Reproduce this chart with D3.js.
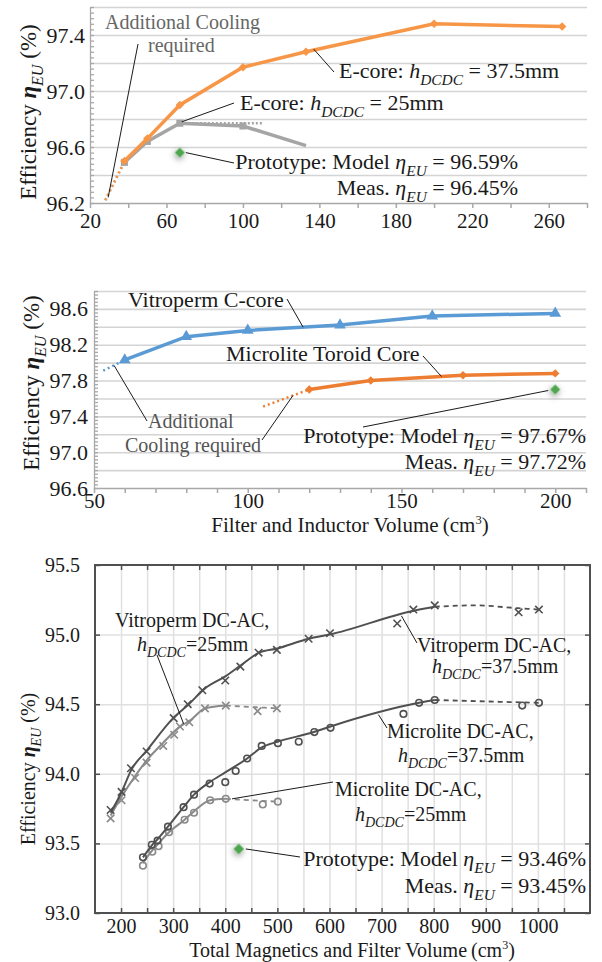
<!DOCTYPE html>
<html>
<head>
<meta charset="utf-8">
<script src="https://cdn.jsdelivr.net/npm/d3@7"></script>
<style>
  body { margin: 0; background: #fff; }
  svg { display: block; }
</style>
</head>
<body>
<svg id="fig" width="602" height="962"></svg>
<script>
// ---- top chart: E-core designs
var topVol25 = [38, 50, 67, 100, 133];
var topEff25 = [96.49, 96.64, 96.77, 96.75, 96.61];
var topVol37 = [38, 50, 67, 100, 133, 200, 267];
var topEff37 = [96.50, 96.66, 96.90, 97.17, 97.28, 97.48, 97.46];
var topCoolVol = [28, 38];
var topCoolEff37 = [96.22, 96.50];
var topCoolEff25 = [96.22, 96.49];
var topFlatVol = [67, 110];
var topFlatEff = [96.77, 96.77];
var topProto = [67, 96.56];
var topXTicks = [20, 60, 100, 140, 180, 220, 260];
var topYTicks = [96.2, 96.6, 97.0, 97.4];

// ---- middle chart: filter and inductor volume
var midVitroVol = [60, 80, 100, 130, 160, 200];
var midVitroEff = [98.03, 98.29, 98.36, 98.42, 98.52, 98.55];
var midVitroCoolVol = [53, 60];
var midVitroCoolEff = [97.91, 98.03];
var midMicroVol = [120, 140, 170, 200];
var midMicroEff = [97.70, 97.80, 97.86, 97.88];
var midMicroCoolVol = [105, 120];
var midMicroCoolEff = [97.51, 97.70];
var midProto = [200, 97.70];
var midXTicks = [50, 100, 150, 200];
var midYTicks = [96.6, 97.0, 97.4, 97.8, 98.2, 98.6];

// ---- bottom chart: total magnetics volume (markers = designs, curves = trend)
var v37Vol = [180, 201, 219, 249, 301, 328, 356, 400, 429, 464, 499, 560, 601, 730, 761, 802, 963, 1002];
var v37Eff = [93.74, 93.87, 94.04, 94.16, 94.40, 94.50, 94.60, 94.67, 94.77, 94.87, 94.89, 94.97, 95.01, 95.08, 95.18, 95.21, 95.16, 95.18];
var v37CurveVol = [180, 200, 220, 250, 300, 330, 360, 400, 430, 465, 500, 560, 600, 760, 802];
var v37CurveEff = [93.72, 93.86, 94.03, 94.17, 94.40, 94.50, 94.61, 94.70, 94.78, 94.87, 94.90, 94.97, 95.00, 95.17, 95.20];
var v37DashVol = [802, 880, 960, 1002];
var v37DashEff = [95.20, 95.21, 95.19, 95.18];

var v25Vol = [180, 201, 227, 249, 281, 302, 313, 331, 361, 401, 462, 499];
var v25Eff = [93.68, 93.81, 93.97, 94.08, 94.20, 94.28, 94.34, 94.37, 94.47, 94.49, 94.45, 94.47];
var v25CurveVol = [180, 200, 230, 250, 280, 310, 335, 361, 401];
var v25CurveEff = [93.70, 93.83, 94.00, 94.10, 94.22, 94.33, 94.39, 94.47, 94.49];
var v25DashVol = [401, 450, 500];
var v25DashEff = [94.49, 94.48, 94.47];

var m37Vol = [242, 259, 270, 290, 320, 340, 370, 400, 420, 442, 470, 501, 541, 571, 602, 742, 772, 802, 970, 1002];
var m37Eff = [93.40, 93.49, 93.52, 93.62, 93.76, 93.85, 93.93, 93.94, 94.02, 94.11, 94.20, 94.22, 94.23, 94.30, 94.33, 94.43, 94.51, 94.53, 94.49, 94.51];
var m37CurveVol = [242, 260, 270, 290, 320, 340, 370, 400, 442, 470, 500, 570, 602, 772, 802];
var m37CurveEff = [93.40, 93.49, 93.53, 93.62, 93.76, 93.85, 93.94, 94.01, 94.11, 94.19, 94.23, 94.30, 94.34, 94.51, 94.53];
var m37DashVol = [802, 900, 1002];
var m37DashEff = [94.53, 94.52, 94.51];

var m25Vol = [242, 260, 272, 292, 322, 340, 371, 401, 472, 501];
var m25Eff = [93.34, 93.44, 93.48, 93.58, 93.67, 93.72, 93.81, 93.82, 93.78, 93.80];
var m25CurveVol = [242, 260, 272, 292, 322, 340, 371, 401];
var m25CurveEff = [93.36, 93.45, 93.50, 93.58, 93.67, 93.73, 93.81, 93.82];
var m25DashVol = [401, 450, 501];
var m25DashEff = [93.82, 93.81, 93.80];

var botProto = [426, 93.46];
var botXTicks = [200, 300, 400, 500, 600, 700, 800, 900, 1000];
var botYTicks = [93.0, 93.5, 94.0, 94.5, 95.0, 95.5];

var INK = "#1a1a1a";
var SERIF = "'Liberation Serif'";
var svg = d3.select("#fig");

var defs = svg.append("defs");
var glow = defs.append("filter").attr("id", "glow")
  .attr("x", "-200%").attr("y", "-200%").attr("width", "500%").attr("height", "500%");
glow.append("feDropShadow").attr("dx", 1).attr("dy", 2).attr("stdDeviation", 3)
  .attr("flood-color", "#000").attr("flood-opacity", 0.5);

function pts(xs, ys) {
  return xs.map(function (v, i) { return [v, ys[i]]; });
}

// text with italic / subscript / superscript runs
function rich(g, x, y, parts, size, anchor, fill) {
  var t = g.append("text").attr("x", x).attr("y", y)
    .style("font-family", SERIF)
    .attr("font-size", size).attr("text-anchor", anchor || "start")
    .attr("fill", fill || INK);
  var shift = 0;
  parts.forEach(function (p) {
    var s = t.append("tspan").text(p.t);
    var want = p.sub ? size * 0.3 : (p.sup ? -size * 0.4 : 0);
    if (want !== shift) { s.attr("dy", want - shift); shift = want; }
    if (p.sub) s.attr("font-size", size * 0.7);
    if (p.sup) s.attr("font-size", size * 0.6);
    if (p.i) s.attr("font-style", "italic");
    if (p.b) s.attr("font-weight", "bold");
  });
  return t;
}

function leader(g, a, b) {
  g.append("line").attr("x1", a[0]).attr("y1", a[1]).attr("x2", b[0]).attr("y2", b[1])
    .attr("stroke", INK).attr("stroke-width", 1);
}

function yTitle(g, cx, cy, size) {
  var t = rich(g, 0, 0, [
    { t: "Efficiency " }, { t: "η", i: true, b: true }, { t: "EU", i: true, sub: true }, { t: " (%)" }
  ], size, "middle");
  t.attr("transform", "translate(" + cx + "," + cy + ") rotate(-90)");
}

function styleAxisText(sel, size) {
  sel.selectAll("text").style("font-family", SERIF).attr("font-size", size).attr("fill", INK);
}

function hEta(sub) { return [{ t: "h", i: true }, { t: sub, i: true, sub: true }]; }
function eta() { return [{ t: "η", i: true }, { t: "EU", i: true, sub: true }]; }

var diamond = d3.symbol(d3.symbolSquare, 36);

// ================= TOP =================
(function () {
  var x = d3.scaleLinear([20, 280], [90, 587]);
  var y = d3.scaleLinear([96.2, 97.6], [203, 7]);
  var w = 497;
  var g = svg.append("g");

  g.append("g").attr("transform", "translate(90,0)")
    .call(d3.axisLeft(y).tickValues(d3.range(96.4, 97.61, 0.2)).tickSize(-w).tickFormat(""))
    .call(function (a) { a.select(".domain").remove(); })
    .selectAll("line").attr("stroke", "#d4d4d4").attr("stroke-width", 1.6);

  g.append("g").attr("transform", "translate(90,0)")
    .call(d3.axisLeft(y).tickValues(d3.range(96.2, 97.601, 0.04)).tickSize(-4).tickSizeOuter(0).tickFormat(""))
    .call(function (a) { a.selectAll("line,path").attr("stroke", "#a8a8a8").attr("stroke-width", 1.3); });

  var ya = g.append("g").attr("transform", "translate(90,0)")
    .call(d3.axisLeft(y).tickValues(topYTicks).tickSize(0).tickPadding(5).tickFormat(d3.format(".1f")))
    .call(function (a) { a.select(".domain").remove(); });
  styleAxisText(ya, 22);

  var xa = g.append("g").attr("transform", "translate(0,203)")
    .call(d3.axisBottom(x).tickValues(d3.range(20, 281, 20)).tickSize(5).tickSizeOuter(0).tickPadding(5)
      .tickFormat(function (d) { return topXTicks.indexOf(d) >= 0 ? d : ""; }));
  xa.selectAll("line,path").attr("stroke", "#a8a8a8").attr("stroke-width", 1.5);
  styleAxisText(xa, 21);

  var line = d3.line().x(function (d) { return x(d[0]); }).y(function (d) { return y(d[1]); });

  g.append("path").attr("d", line(pts(topCoolVol, topCoolEff25))).attr("fill", "none")
    .attr("stroke", "#a5a5a5").attr("stroke-width", 2.5).attr("stroke-dasharray", "2,3");
  g.append("path").attr("d", line(pts(topCoolVol, topCoolEff37))).attr("fill", "none")
    .attr("stroke", "#f79646").attr("stroke-width", 2.5).attr("stroke-dasharray", "2,3");
  g.append("path").attr("d", line(pts(topFlatVol, topFlatEff))).attr("fill", "none")
    .attr("stroke", "#a5a5a5").attr("stroke-width", 2.5).attr("stroke-dasharray", "2,2");

  g.append("path").attr("d", line(pts(topVol25, topEff25))).attr("fill", "none")
    .attr("stroke", "#a5a5a5").attr("stroke-width", 3.5);
  g.selectAll(".sq").data(pts(topVol25, topEff25).slice(0, 4)).enter().append("path")
    .attr("d", d3.symbol(d3.symbolSquare, 50)())
    .attr("transform", function (d) { return "translate(" + x(d[0]) + "," + y(d[1]) + ")"; })
    .attr("fill", "#a5a5a5");

  g.append("path").attr("d", line(pts(topVol37, topEff37))).attr("fill", "none")
    .attr("stroke", "#f79646").attr("stroke-width", 3.5);
  g.selectAll(".dm").data(pts(topVol37, topEff37)).enter().append("path")
    .attr("d", diamond())
    .attr("transform", function (d) { return "translate(" + x(d[0]) + "," + y(d[1]) + ") rotate(45)"; })
    .attr("fill", "#f79646");

  g.append("path").attr("d", d3.symbol(d3.symbolSquare, 50)())
    .attr("transform", "translate(" + x(topProto[0]) + "," + y(topProto[1]) + ") rotate(45)")
    .attr("fill", "#4ea64e").attr("filter", "url(#glow)");

  // annotations
  var lab = g.append("g");
  rich(lab, 105, 29, [{ t: "Additional Cooling" }], 20, "start", "#666");
  rich(lab, 148, 52, [{ t: "required" }], 20, "start", "#666");
  leader(lab, [138, 44], [x(29.5), y(96.24)]);

  rich(lab, 339, 78, [{ t: "E-core: " }].concat(hEta("DCDC"), [{ t: " = 37.5mm" }]), 22);
  leader(lab, [x(137), y(97.30)], [334, 72]);

  rich(lab, 240, 110, [{ t: "E-core: " }].concat(hEta("DCDC"), [{ t: " = 25mm" }]), 22);
  leader(lab, [x(68), y(96.78)], [234, 103]);

  rich(lab, 518, 169, [{ t: "Prototype: Model " }].concat(eta(), [{ t: " = 96.59%" }]), 22, "end");
  rich(lab, 518, 195, [{ t: "Meas.  " }].concat(eta(), [{ t: " = 96.45%" }]), 22, "end");
  leader(lab, [x(topProto[0]) + 6, y(topProto[1])], [234, 163]);

  yTitle(g, 36, 112, 23);
})();

// ================= MIDDLE =================
(function () {
  var x = d3.scaleLinear([50, 210], [94, 586]);
  var y = d3.scaleLinear([96.6, 98.8], [488, 291]);
  var w = 492;
  var g = svg.append("g");

  g.append("g").attr("transform", "translate(94,0)")
    .call(d3.axisLeft(y).tickValues(d3.range(96.8, 98.81, 0.2)).tickSize(-w).tickFormat(""))
    .call(function (a) { a.select(".domain").remove(); })
    .selectAll("line").attr("stroke", "#d4d4d4").attr("stroke-width", 1.6);

  g.append("g").attr("transform", "translate(94,0)")
    .call(d3.axisLeft(y).tickValues(d3.range(96.6, 98.801, 0.04)).tickSize(-4).tickSizeOuter(0).tickFormat(""))
    .call(function (a) { a.selectAll("line,path").attr("stroke", "#a8a8a8").attr("stroke-width", 1.3); });

  var ya = g.append("g").attr("transform", "translate(94,0)")
    .call(d3.axisLeft(y).tickValues(midYTicks).tickSize(0).tickPadding(6).tickFormat(d3.format(".1f")))
    .call(function (a) { a.select(".domain").remove(); });
  styleAxisText(ya, 22);

  var xa = g.append("g").attr("transform", "translate(0,488)")
    .call(d3.axisBottom(x).tickValues(d3.range(50, 211, 10)).tickSize(5).tickSizeOuter(0).tickPadding(0)
      .tickFormat(function (d) { return midXTicks.indexOf(d) >= 0 ? d : ""; }));
  xa.selectAll("line,path").attr("stroke", "#a8a8a8").attr("stroke-width", 1.5);
  styleAxisText(xa, 21);

  var line = d3.line().x(function (d) { return x(d[0]); }).y(function (d) { return y(d[1]); });

  g.append("path").attr("d", line(pts(midVitroCoolVol, midVitroCoolEff))).attr("fill", "none")
    .attr("stroke", "#5b9bd5").attr("stroke-width", 2.5).attr("stroke-dasharray", "2,3");
  g.append("path").attr("d", line(pts(midMicroCoolVol, midMicroCoolEff))).attr("fill", "none")
    .attr("stroke", "#ed7d31").attr("stroke-width", 2.5).attr("stroke-dasharray", "2,3");

  g.append("path").attr("d", line(pts(midVitroVol, midVitroEff))).attr("fill", "none")
    .attr("stroke", "#5b9bd5").attr("stroke-width", 3.5);
  g.selectAll(".tri").data(pts(midVitroVol, midVitroEff)).enter().append("path")
    .attr("d", d3.symbol(d3.symbolTriangle, 60)())
    .attr("transform", function (d) { return "translate(" + x(d[0]) + "," + y(d[1]) + ")"; })
    .attr("fill", "#5b9bd5");

  g.append("path").attr("d", line(pts(midMicroVol, midMicroEff))).attr("fill", "none")
    .attr("stroke", "#ed7d31").attr("stroke-width", 3.5);
  g.selectAll(".dm").data(pts(midMicroVol, midMicroEff)).enter().append("path")
    .attr("d", diamond())
    .attr("transform", function (d) { return "translate(" + x(d[0]) + "," + y(d[1]) + ") rotate(45)"; })
    .attr("fill", "#ed7d31");

  g.append("path").attr("d", d3.symbol(d3.symbolSquare, 50)())
    .attr("transform", "translate(" + x(midProto[0]) + "," + y(midProto[1]) + ") rotate(45)")
    .attr("fill", "#4ea64e").attr("filter", "url(#glow)");

  var lab = g.append("g");
  rich(lab, 128, 307, [{ t: "Vitroperm C-core" }], 22);
  leader(lab, [287, 299], [x(118), y(98.396)]);
  rich(lab, 226, 361, [{ t: "Microlite Toroid Core" }], 22);
  leader(lab, [423, 356], [x(163), y(97.845)]);

  rich(lab, 148, 428, [{ t: "Additional" }], 20, "start", "#555");
  rich(lab, 125, 452, [{ t: "Cooling required" }], 20, "start", "#555");
  leader(lab, [147, 421], [x(56.5), y(97.97)]);
  leader(lab, [262, 440], [x(114.7), y(97.633)]);

  rich(lab, 586, 443, [{ t: "Prototype: Model " }].concat(eta(), [{ t: " = 97.67%" }]), 22, "end");
  rich(lab, 586, 469, [{ t: "Meas.  " }].concat(eta(), [{ t: " = 97.72%" }]), 22, "end");
  leader(lab, [x(midProto[0]) - 7, y(midProto[1]) + 1], [363, 427]);

  rich(g, 350, 532, [{ t: "Filter and Inductor Volume" }, { t: "\u2009(cm" }, { t: "3", sup: true }, { t: ")" }], 21, "middle");

  yTitle(g, 39, 383, 23);
})();

// ================= BOTTOM =================
(function () {
  var x = d3.scaleLinear([150, 1100], [95, 590]);
  var y = d3.scaleLinear([93, 95.5], [913, 565]);
  var g = svg.append("g");
  var dark = "#505050", light = "#8a8a8a";

  g.append("g").attr("transform", "translate(0,565)")
    .call(d3.axisBottom(x).tickValues(d3.range(200, 1051, 50)).tickSize(348).tickFormat(""))
    .call(function (a) { a.select(".domain").remove(); })
    .selectAll("line").attr("stroke", "#e0e0e0").attr("stroke-width", 1.5);
  g.append("g").attr("transform", "translate(95,0)")
    .call(d3.axisRight(y).tickValues([93.5, 94.0, 94.5, 95.0]).tickSize(495).tickFormat(""))
    .call(function (a) { a.select(".domain").remove(); })
    .selectAll("line").attr("stroke", "#e0e0e0").attr("stroke-width", 1.5);

  // inward ticks on all four sides
  function ticks(axis, tr) {
    g.append("g").attr("transform", tr).call(axis)
      .call(function (a) { a.select(".domain").remove(); })
      .selectAll("line").attr("stroke", dark).attr("stroke-width", 1.5);
  }
  ticks(d3.axisBottom(x).tickValues(d3.range(200, 1051, 50)).tickSize(-5).tickFormat(""), "translate(0,913)");
  ticks(d3.axisTop(x).tickValues(d3.range(200, 1051, 50)).tickSize(-5).tickFormat(""), "translate(0,565)");
  ticks(d3.axisLeft(y).tickValues(botYTicks).tickSize(-5).tickFormat(""), "translate(95,0)");
  ticks(d3.axisRight(y).tickValues(botYTicks).tickSize(-5).tickFormat(""), "translate(590,0)");

  g.append("rect").attr("x", 95).attr("y", 565).attr("width", 495).attr("height", 348)
    .attr("fill", "none").attr("stroke", dark).attr("stroke-width", 2);

  var xa = g.append("g").attr("transform", "translate(0,913)")
    .call(d3.axisBottom(x).tickValues(botXTicks).tickSize(0).tickPadding(6).tickFormat(d3.format("d")))
    .call(function (a) { a.select(".domain").remove(); });
  styleAxisText(xa, 20);
  var ya = g.append("g").attr("transform", "translate(95,0)")
    .call(d3.axisLeft(y).tickValues(botYTicks).tickSize(0).tickPadding(15).tickFormat(d3.format(".1f")))
    .call(function (a) { a.select(".domain").remove(); });
  styleAxisText(ya, 20);

  var curve = d3.line().curve(d3.curveMonotoneX)
    .x(function (d) { return x(d[0]); }).y(function (d) { return y(d[1]); });

  function series(cv, ce, dv, de, mv, me, color, sym) {
    g.append("path").attr("d", curve(pts(cv, ce))).attr("fill", "none")
      .attr("stroke", color).attr("stroke-width", 2);
    g.append("path").attr("d", curve(pts(dv, de))).attr("fill", "none")
      .attr("stroke", color).attr("stroke-width", 1.8).attr("stroke-dasharray", "5,4");
    g.append("g").selectAll("path").data(pts(mv, me)).enter().append("path")
      .attr("d", d3.symbol(sym, sym === d3.symbolX ? 38 : 34)())
      .attr("transform", function (d) { return "translate(" + x(d[0]) + "," + y(d[1]) + ")"; })
      .attr("fill", "none").attr("stroke", color).attr("stroke-width", 1.6);
  }
  series(m25CurveVol, m25CurveEff, m25DashVol, m25DashEff, m25Vol, m25Eff, light, d3.symbolCircle);
  series(v25CurveVol, v25CurveEff, v25DashVol, v25DashEff, v25Vol, v25Eff, light, d3.symbolX);
  series(m37CurveVol, m37CurveEff, m37DashVol, m37DashEff, m37Vol, m37Eff, dark, d3.symbolCircle);
  series(v37CurveVol, v37CurveEff, v37DashVol, v37DashEff, v37Vol, v37Eff, dark, d3.symbolX);

  g.append("path").attr("d", d3.symbol(d3.symbolSquare, 55)())
    .attr("transform", "translate(" + x(botProto[0]) + "," + y(botProto[1]) + ") rotate(45)")
    .attr("fill", "#4ea64e").attr("filter", "url(#glow)");

  var lab = g.append("g");
  var fs = 20;
  rich(lab, 115, 627, [{ t: "Vitroperm DC-AC," }], fs);
  rich(lab, 137, 651, hEta("DCDC").concat([{ t: "=25mm" }]), fs);
  leader(lab, [157, 655], [x(320), y(94.36)]);

  rich(lab, 417, 652, [{ t: "Vitroperm DC-AC," }], fs);
  rich(lab, 432, 673, hEta("DCDC").concat([{ t: "=37.5mm" }]), fs);
  leader(lab, [x(738), y(95.135)], [417, 643]);

  rich(lab, 387, 738, [{ t: "Microlite DC-AC," }], fs);
  rich(lab, 398, 762, hEta("DCDC").concat([{ t: "=37.5mm" }]), fs);
  leader(lab, [x(694), y(94.425)], [387, 728]);

  rich(lab, 335, 796, [{ t: "Microlite DC-AC," }], fs);
  rich(lab, 355, 821, hEta("DCDC").concat([{ t: "=25mm" }]), fs);
  leader(lab, [x(413), y(93.82)], [333, 782]);

  rich(lab, 586, 866, [{ t: "Prototype: Model " }].concat(eta(), [{ t: " = 93.46%" }]), 22, "end");
  rich(lab, 586, 893, [{ t: "Meas.  " }].concat(eta(), [{ t: " = 93.45%" }]), 22, "end");
  leader(lab, [x(botProto[0]) + 7, y(botProto[1])], [300, 857]);

  rich(g, 352, 957, [{ t: "Total Magnetics and Filter Volume" }, { t: "\u2009(cm" }, { t: "3", sup: true }, { t: ")" }], 20, "middle");

  yTitle(g, 35, 769, 20);
})();
</script>
</body>
</html>
